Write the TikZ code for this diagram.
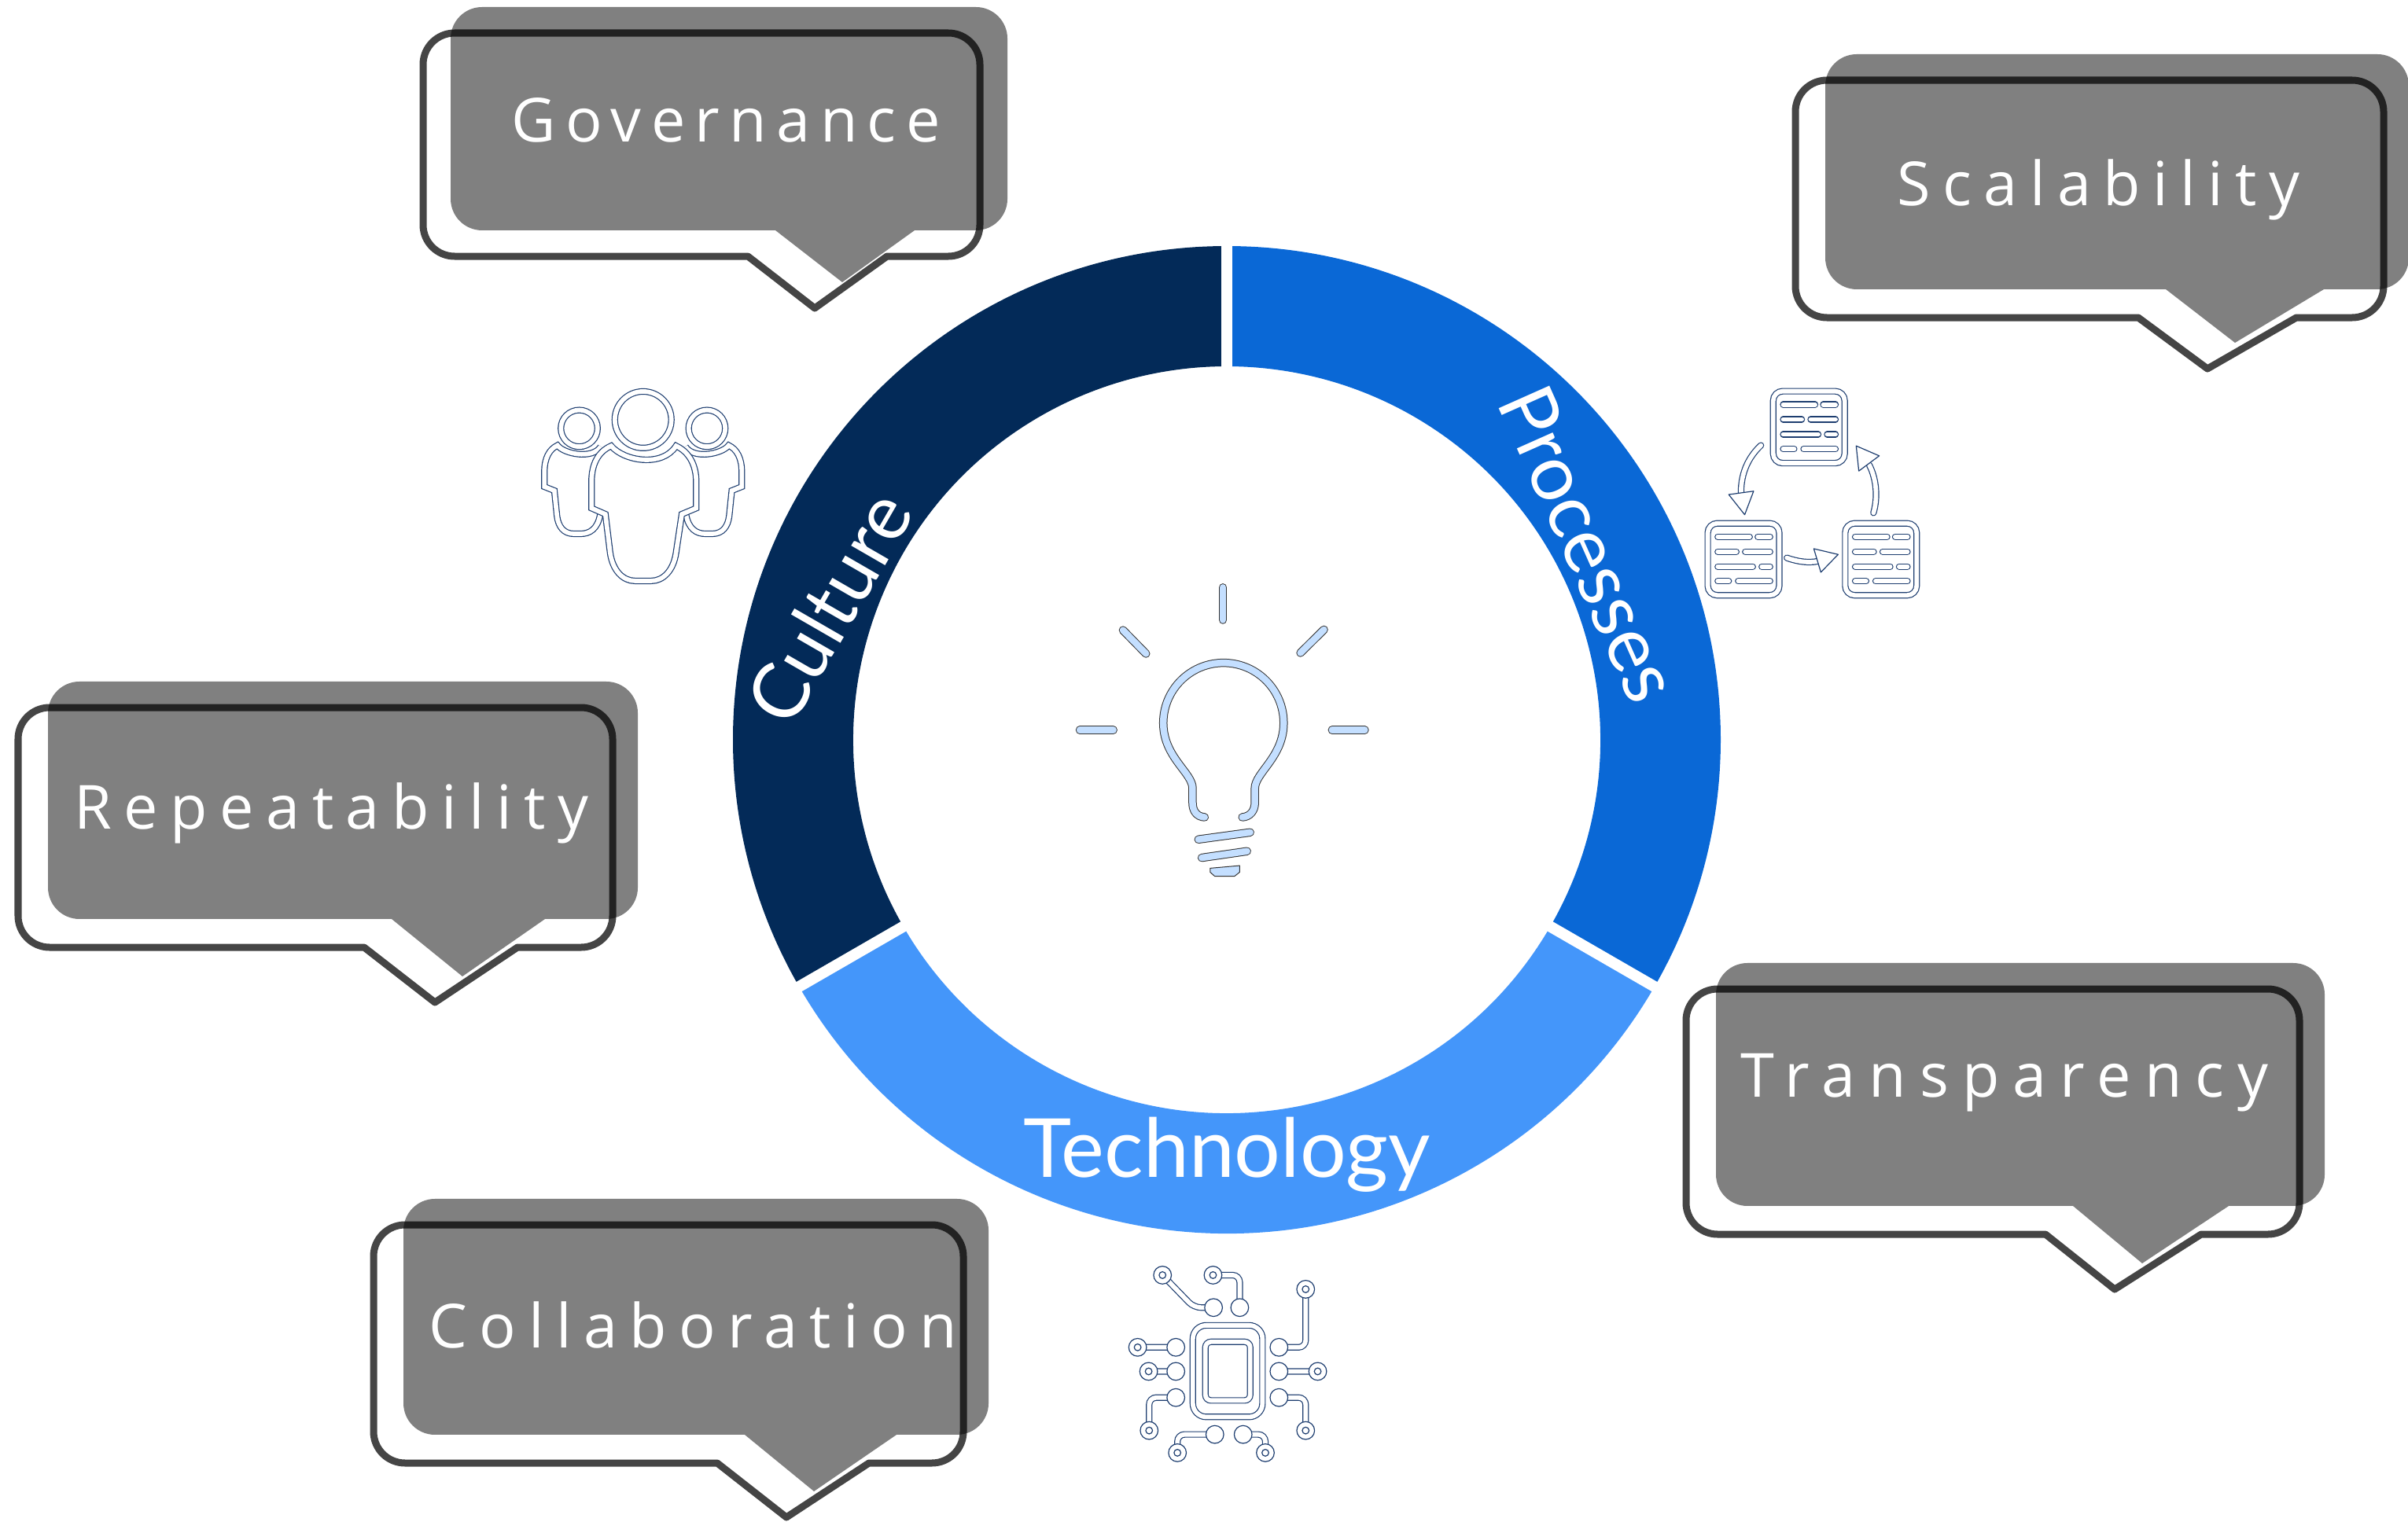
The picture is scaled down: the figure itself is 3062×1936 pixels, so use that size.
\documentclass[tikz,border=0pt]{standalone}
\usepackage{fontspec}
\newfontfamily\ringfont{Lato}
\newfontfamily\bubblefont[LetterSpace=20]{Open Sans}
\definecolor{cultureblue}{RGB}{3,42,88}
\definecolor{processblue}{RGB}{10,104,214}
\definecolor{techblue}{RGB}{68,150,250}
\definecolor{iconblue}{RGB}{30,62,112}
\definecolor{bulbblue}{RGB}{196,223,255}
\definecolor{bubblegrey}{RGB}{128,128,128}
\newcommand{\bubblepath}[8]{(#5,#4) -- (#6,#7) -- (#8,#4) [rounded corners=0.4cm] -- (#3,#4) -- (#3,#2) -- (#1,#2) -- (#1,#4) [sharp corners] -- (#5,#4) -- cycle}
\newcommand{\speechbubble}[9][0]{
    \fill[bubblefill] \bubblepath{#2+#1}{#3}{#4-#1}{#5-#1}{#6}{#7}{#8}{#9};
    \draw[bubbleline] \bubblepath{#2}{#3}{#4}{#5}{#6}{#7}{#8}{#9};
}
\tikzset{
    ringlabel/.style={text=white, inner sep=0pt, anchor=base, font=\ringfont\fontsize{28}{30}\selectfont},
    bubblelabel/.style={text=white, inner sep=0pt, anchor=base west, font=\bubblefont\fontsize{22}{24}\selectfont},
    bubblefill/.style={fill=bubblegrey, xshift=0.35cm, yshift=0.33cm},
    bubbleline/.style={draw=black, draw opacity=0.73, line width=0.09cm, line join=round},
    icondraw/.style={draw=iconblue, line width=0.012cm, double=white, double distance=0.058cm},
    padcircle/.style={draw=iconblue, line width=0.012cm, fill=white},
    bulbdraw/.style={draw=black!80, line width=0.01cm, double=bulbblue, double distance=0.085cm, line cap=round},
    crop/.style={x=0.003333cm, y=-0.003333cm}
}
\begin{document}
\begin{tikzpicture}[x=0.01cm, y=-0.01cm]
    \useasboundingbox (0,0) rectangle (3062,1936);
    % Ring segments
    \begin{scope}[shift={(1560,941)}, y=0.01cm]
        \fill[cultureblue] (90:628) arc (90:210:628) -- (210:475) arc (210:90:475) -- cycle;
        \fill[processblue] (90:628) arc (90:-30:628) -- (-30:475) arc (-30:90:475) -- cycle;
        \fill[techblue] (210:628) arc (210:330:628) -- (330:475) arc (330:210:475) -- cycle;
        \foreach \gapangle in {90,210,330} {
            \draw[white, line width=0.14cm] (\gapangle:460) -- (\gapangle:640);
        }
    \end{scope}
    \node[ringlabel, rotate=60] (culture) at (1085,790) {Culture};
    \node[ringlabel, rotate=-66] (processes) at (1989,706) {Processes};
    \node[ringlabel, font=\ringfont\fontsize{29.5}{31}\selectfont] (technology) at (1560,1497) {Technology};

    % Speech bubbles
    \speechbubble{538}{42}{1246}{326}{951}{1036}{392}{1128}
    \speechbubble[3]{2283}{102}{3031}{404}{2719}{2807}{469}{2920}
    \speechbubble[3]{23}{900}{779}{1205}{463}{553}{1275}{658}
    \speechbubble[3]{2144}{1258}{2924}{1570}{2601}{2689}{1640}{2799}
    \speechbubble[3]{475}{1558}{1225}{1861}{912}{1000}{1930}{1105}
    \node[bubblelabel] (governance) at (650,180) {\addfontfeature{LetterSpace=16}Governance};
    \node[bubblelabel] (scalability) at (2412,261) {Scalability};
    \node[bubblelabel] (repeatability) at (94,1054) {Repeatability};
    \node[bubblelabel] (transparency) at (2213,1395) {\addfontfeature{LetterSpace=22}Transparency};
    \node[bubblelabel] (collaboration) at (545,1714) {Collaboration};

    % Light bulb
    \begin{scope}[shift={(1400,720)}, crop]
        \draw[bulbdraw] (396,960) .. controls (365,958) and (350,935) .. (350,905) -- (350,850)
            .. controls (350,790) and (238,730) .. (238,600) arc (180:360:230)
            .. controls (698,730) and (588,790) .. (588,850) -- (588,905)
            .. controls (588,935) and (570,958) .. (540,960);
        \foreach \rayax/\rayay/\raybx/\rayby in {466/82/466/206, 84/245/172/335, 852/243/762/332, -81/627/47/627, 883/627/1008/627, 372/1045/570/1018, 385/1115/558/1090} {
            \draw[bulbdraw] (\rayax,\rayay) -- (\raybx,\rayby);
        }
        \filldraw[draw=black!80, line width=0.01cm, fill=bulbblue] (417,1155) -- (530,1145) -- (530,1170) -- (510,1186) -- (435,1186) -- (417,1170) -- cycle;
    \end{scope}

    % People icon
    \begin{scope}[shift={(660,470)}, crop]
        \foreach \sidex/\mirror in {0/1, 948/-1} {
            \begin{scope}[xshift=\sidex*0.003333cm, x=\mirror*0.003333cm]
                \draw[icondraw] (230,225) circle (70);
                \draw[icondraw] (310,555) .. controls (300,610) and (270,628) .. (235,628) -- (210,628)
                    .. controls (170,628) and (150,600) .. (145,560) -- (135,463) -- (97,448) -- (97,390)
                    .. controls (97,340) and (115,305) .. (147,290) .. controls (170,322) and (280,345) .. (312,295);
            \end{scope}
        }
        \draw[icondraw] (474,192) circle (108);
        \draw[icondraw, fill=white] (352,292) .. controls (400,350) and (548,375) .. (600,292)
            .. controls (650,315) and (677,365) .. (677,430) -- (677,530) -- (622,553) -- (600,700)
            .. controls (590,770) and (550,808) .. (505,808) -- (443,808)
            .. controls (398,808) and (358,770) .. (348,700) -- (330,553) -- (277,530) -- (277,430)
            .. controls (277,365) and (300,315) .. (352,292) -- cycle;
    \end{scope}

    % Process icon
    \begin{scope}[shift={(2140,470)}, crop]
        \foreach \boxx/\boxy in {335/73, 85/578, 610/578} {
            \draw[icondraw, rounded corners=0.12cm] ({\boxx+10},{\boxy+10}) rectangle ({\boxx+283},{\boxy+285});
            \foreach \rowy/\barax/\barbx/\barcx/\bardx in {61/48/170/201/248, 118/48/119/153/248, 175/48/182/216/248, 231/48/90/126/248} {
                \draw[icondraw, line cap=round] ({\boxx+\barax},{\boxy+\rowy}) -- ({\boxx+\barbx},{\boxy+\rowy});
                \draw[icondraw, line cap=round] ({\boxx+\barcx},{\boxy+\rowy}) -- ({\boxx+\bardx},{\boxy+\rowy});
            }
        }
        \draw[icondraw, line cap=round] (298,290) .. controls (250,335) and (222,395) .. (222,470);
        \filldraw[padcircle, line join=round] (175,478) -- (270,465) -- (236,555) -- cycle;
        \draw[icondraw, line cap=round] (728,548) .. controls (745,490) and (740,420) .. (712,365);
        \filldraw[padcircle, line join=round] (662,292) -- (750,330) -- (672,388) -- cycle;
        \draw[icondraw, line cap=round] (397,720) .. controls (440,735) and (480,740) .. (515,733);
        \filldraw[padcircle, line join=round] (500,685) -- (593,707) -- (527,775) -- cycle;
    \end{scope}

    % Chip icon
    \begin{scope}[shift={(1410,1590)}, crop]
        \draw[icondraw, rounded corners=0.17cm] (321,288) rectangle (587,638);
        \draw[icondraw, rounded corners=0.07cm] (369,351) rectangle (540,575);
        \foreach \ringx/\ringy/\midx/\midy/\padx/\pady in {
            205/96/325/220/400/220, 398/96/500/96/500/220, 752/150/752/372/650/372,
            110/372/256/372/256/372, 152/464/256/464/256/464, 154/690/154/564/256/564,
            262/775/262/705/405/705, 598/775/598/705/513/705, 752/690/752/564/650/564,
            798/464/650/464/650/464} {
            \draw[icondraw, rounded corners=0.09cm] (\ringx,\ringy) -- (\midx,\midy) -- (\padx,\pady);
            \filldraw[padcircle] (\ringx,\ringy) circle (34);
            \filldraw[padcircle] (\ringx,\ringy) circle (13);
            \filldraw[padcircle] (\padx,\pady) circle (34);
        }
    \end{scope}
\end{tikzpicture}
\end{document}
